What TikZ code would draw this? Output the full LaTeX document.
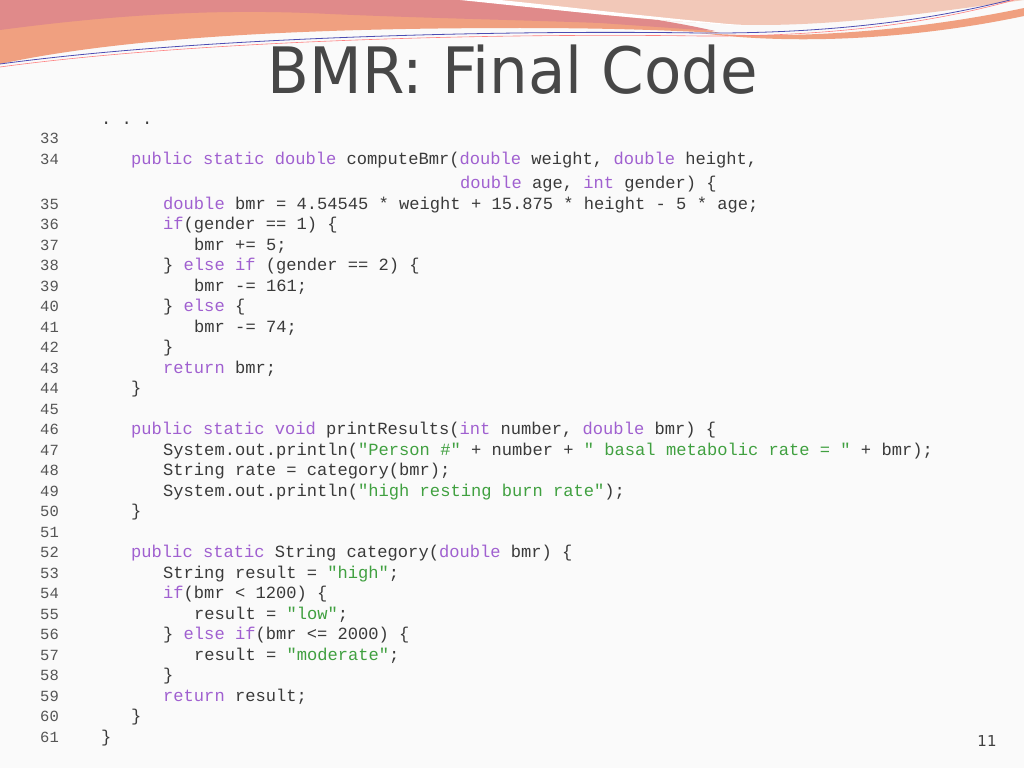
\documentclass[tikz,border=0pt]{standalone}
\usepackage{fontspec}
\setmainfont{DejaVu Sans}
\setmonofont{Liberation Mono}
\newfontfamily\titlefont{DejaVu Sans Condensed}
\definecolor{kwc}{HTML}{A060D0}
\definecolor{stc}{HTML}{40A040}
\definecolor{codec}{HTML}{3A3A3A}
\definecolor{numc}{HTML}{555555}
\definecolor{bannerA}{HTML}{E08A8A}
\definecolor{bannerB}{HTML}{F0A080}
\definecolor{bannerC}{HTML}{F2C8B8}
\newcommand{\kwd}[1]{\textcolor{kwc}{#1}}
\newcommand{\strg}[1]{\textcolor{stc}{#1}}
\begin{document}
\begin{tikzpicture}[x=1pt,y=-1pt,
  cl/.style={anchor=base west,inner sep=0pt,font=\fontsize{17.1}{20}\ttfamily,text=codec},
  ln/.style={anchor=base west,inner sep=0pt,font=\fontsize{15.5}{18}\ttfamily,text=numc}]
\useasboundingbox (0,0) rectangle (1024,768);
\fill[white!98!black] (0,0) rectangle (1024,768);
% banner
\fill[bannerB] (0,0) -- (0,64) .. controls (120,38) and (300,28) .. (520,28) .. controls (620,28) and (680,31) .. (720,33) .. controls (620,12) and (520,0) .. (460,0) -- cycle;
\fill[bannerA] (0,0) -- (0,30) .. controls (150,10) and (250,10) .. (330,14) .. controls (420,18) and (520,20) .. (600,23) -- (715,31) .. controls (640,14) and (520,0) .. (460,0) -- cycle;
\fill[bannerC] (470,0) .. controls (560,10) and (680,25) .. (760,25) .. controls (850,25) and (950,10) .. (1024,0) -- cycle;
\fill[white] (460,0) .. controls (540,8) and (660,22) .. (750,26) .. controls (660,18) and (560,6) .. (500,0) -- cycle;
\fill[bannerB] (700,33) .. controls (800,40) and (920,30) .. (1024,8) -- (1024,16) .. controls (920,38) and (800,46) .. (700,33) -- cycle;
\draw[blue!40!gray,line width=0.8] (0,64) .. controls (200,37) and (500,30) .. (700,33) .. controls (850,34) and (950,15) .. (1010,0);
\draw[red!50!white,line width=0.6] (0,67) .. controls (200,40) and (500,33) .. (700,36) .. controls (850,37) and (950,18) .. (1014,0);
% title
\node[inner sep=0pt,font=\titlefont\fontsize{64}{70}\selectfont,text=black!72] (title) at (513,70) {\scalebox{1.06}[1]{BMR: Final Code}};
\node[cl] (dots) at (101,124) {. . .};
% line numbers
\foreach \n/\y in {33/143,34/164,35/209,36/229,37/250,38/270,39/291,40/311,41/332,42/352,43/373,44/393,45/414,46/434,47/455,48/475,49/496,50/516,51/537,52/557,53/578,54/598,55/619,56/639,57/660,58/680,59/701,60/721,61/742}
  \node[ln] (n\n) at (40,\y) {\n};
% code
\node[cl] (c34) at (131,164) {\kwd{public static double} computeBmr(\kwd{double} weight, \kwd{double} height,};
\node[cl] (c34b) at (460,188) {\kwd{double} age, \kwd{int} gender) \{};
\node[cl] (c35) at (163,209) {\kwd{double} bmr = 4.54545 * weight + 15.875 * height - 5 * age;};
\node[cl] (c36) at (163,229) {\kwd{if}(gender == 1) \{};
\node[cl] (c37) at (194,250) {bmr += 5;};
\node[cl] (c38) at (163,270) {\} \kwd{else if} (gender == 2) \{};
\node[cl] (c39) at (194,291) {bmr -= 161;};
\node[cl] (c40) at (163,311) {\} \kwd{else} \{};
\node[cl] (c41) at (194,332) {bmr -= 74;};
\node[cl] (c42) at (163,352) {\}};
\node[cl] (c43) at (163,373) {\kwd{return} bmr;};
\node[cl] (c44) at (131,393) {\}};
\node[cl] (c46) at (131,434) {\kwd{public static void} printResults(\kwd{int} number, \kwd{double} bmr) \{};
\node[cl] (c47) at (163,455) {System.out.println(\strg{"Person \#"} + number + \strg{" basal metabolic rate = "} + bmr);};
\node[cl] (c48) at (163,475) {String rate = category(bmr);};
\node[cl] (c49) at (163,496) {System.out.println(\strg{"high resting burn rate"});};
\node[cl] (c50) at (131,516) {\}};
\node[cl] (c52) at (131,557) {\kwd{public static} String category(\kwd{double} bmr) \{};
\node[cl] (c53) at (163,578) {String result = \strg{"high"};};
\node[cl] (c54) at (163,598) {\kwd{if}(bmr < 1200) \{};
\node[cl] (c55) at (194,619) {result = \strg{"low"};};
\node[cl] (c56) at (163,639) {\} \kwd{else if}(bmr <= 2000) \{};
\node[cl] (c57) at (194,660) {result = \strg{"moderate"};};
\node[cl] (c58) at (163,680) {\}};
\node[cl] (c59) at (163,701) {\kwd{return} result;};
\node[cl] (c60) at (131,721) {\}};
\node[cl] (c61) at (101,742) {\}};
\node[anchor=base,inner sep=0pt,font=\fontsize{15}{18}\selectfont,text=black!75] (pg) at (987,746) {11};
\end{tikzpicture}
\end{document}
